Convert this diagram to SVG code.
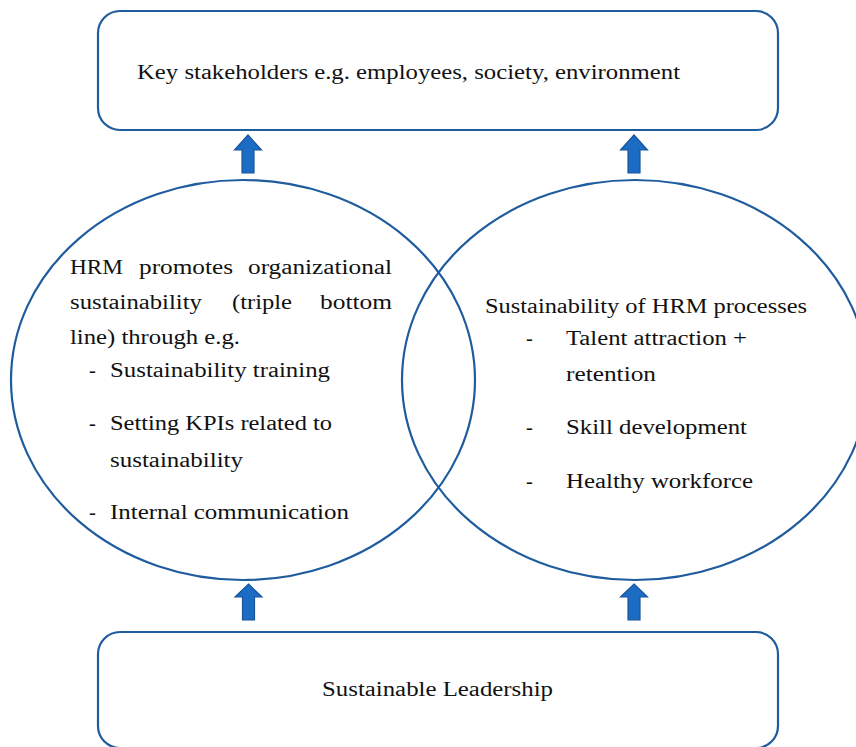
<svg xmlns="http://www.w3.org/2000/svg" width="856" height="747" viewBox="0 0 856 747">
<style>
.box{fill:#fff;stroke:#1f5c9e;stroke-width:2.2}
.ell{fill:none;stroke:#1f5c9e;stroke-width:2.2}
.arr{fill:#1c6cc4;stroke:#16559c;stroke-width:1.2}
text{font-family:"Liberation Serif","Times New Roman",serif;font-size:20.5px;fill:#111}
</style>
<rect width="856" height="747" fill="#fff"/>
<g id="stakeholders">
<rect class="box" x="98" y="11" width="680" height="119" rx="22"/>
<text x="137" y="79" textLength="543" lengthAdjust="spacingAndGlyphs">Key stakeholders e.g. employees, society, environment</text>
</g>
<g id="hrm-promotes">
<ellipse class="ell" cx="243" cy="380" rx="232" ry="200"/>
<text x="70" y="274" textLength="53" lengthAdjust="spacingAndGlyphs">HRM</text>
<text x="139" y="274" textLength="94" lengthAdjust="spacingAndGlyphs">promotes</text>
<text x="248" y="274" textLength="144" lengthAdjust="spacingAndGlyphs">organizational</text>
<text x="70" y="309" textLength="132" lengthAdjust="spacingAndGlyphs">sustainability</text>
<text x="232" y="309" textLength="60" lengthAdjust="spacingAndGlyphs">(triple</text>
<text x="320" y="309" textLength="72" lengthAdjust="spacingAndGlyphs">bottom</text>
<text x="70" y="344" textLength="170" lengthAdjust="spacingAndGlyphs">line) through e.g.</text>
<text x="89" y="377">-</text>
<text x="110" y="377" textLength="220" lengthAdjust="spacingAndGlyphs">Sustainability training</text>
<text x="89" y="430">-</text>
<text x="110" y="430" textLength="222" lengthAdjust="spacingAndGlyphs">Setting KPIs related to</text>
<text x="110" y="467" textLength="133" lengthAdjust="spacingAndGlyphs">sustainability</text>
<text x="89" y="519">-</text>
<text x="110" y="519" textLength="239" lengthAdjust="spacingAndGlyphs">Internal communication</text>
</g>
<g id="hrm-processes">
<ellipse class="ell" cx="635" cy="380" rx="233" ry="200"/>
<text x="485" y="313" textLength="322" lengthAdjust="spacingAndGlyphs">Sustainability of HRM processes</text>
<text x="526" y="345">-</text>
<text x="566" y="345" textLength="181" lengthAdjust="spacingAndGlyphs">Talent attraction +</text>
<text x="566" y="381" textLength="90" lengthAdjust="spacingAndGlyphs">retention</text>
<text x="526" y="434">-</text>
<text x="566" y="434" textLength="181" lengthAdjust="spacingAndGlyphs">Skill development</text>
<text x="526" y="488">-</text>
<text x="566" y="488" textLength="187" lengthAdjust="spacingAndGlyphs">Healthy workforce</text>
</g>
<g id="leadership">
<rect class="box" x="98" y="632" width="680" height="116" rx="22"/>
<text x="322" y="696" textLength="231" lengthAdjust="spacingAndGlyphs">Sustainable Leadership</text>
</g>
<g id="connectors">
<path class="arr" d="M248 135 L261.5 150 L254 150 L254 173 L242 173 L242 150 L234.5 150 Z"/>
<path class="arr" d="M634 135 L647.5 150 L640 150 L640 173 L628 173 L628 150 L620.5 150 Z"/>
<path class="arr" d="M248.5 584 L262 597 L254.5 597 L254.5 620 L242.5 620 L242.5 597 L235 597 Z"/>
<path class="arr" d="M634 584 L647.5 597 L640 597 L640 620 L628 620 L628 597 L620.5 597 Z"/>
</g>
</svg>
